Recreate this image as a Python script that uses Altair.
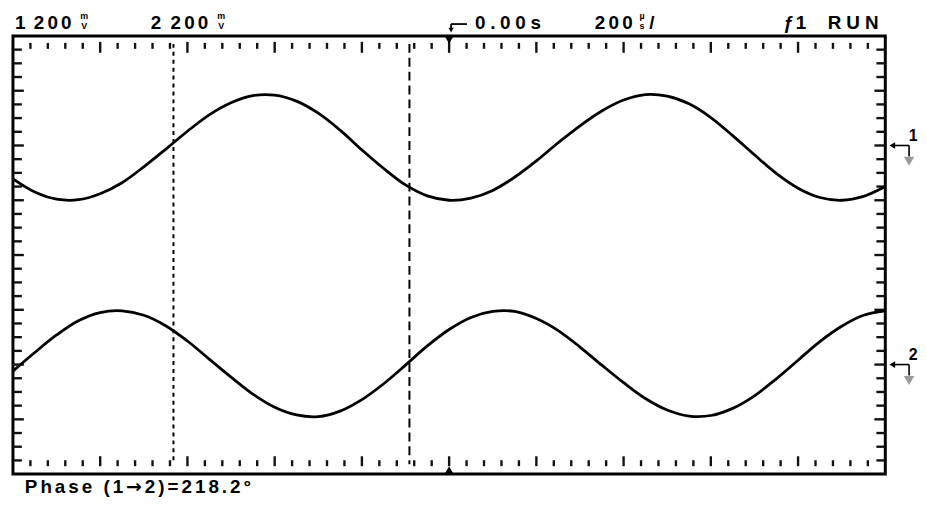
import altair as alt
import pandas as pd
import numpy as np

# ---------------- values read from the screen ----------------
# time axis: 200 us/div, 10 divisions, trigger (0.00 s) at centre
time_us = list(range(-1000, 1001, 50))
# vertical position of each trace in screen divisions (8 div, centre = 0)
ch1_div = [1.39, 1.15, 1.02, 1.01, 1.12, 1.32, 1.61, 1.93, 2.26, 2.56, 2.78,
           2.91, 2.92, 2.81, 2.59, 2.28, 1.92, 1.58, 1.28, 1.08, 1.00, 1.04,
           1.18, 1.42, 1.72, 2.05, 2.36, 2.63, 2.83, 2.93, 2.90, 2.76, 2.51,
           2.18, 1.83, 1.49, 1.22, 1.05, 1.00, 1.07, 1.25]
ch2_div = [-2.12, -1.78, -1.46, -1.20, -1.05, -1.02, -1.10, -1.29, -1.57, -1.90,
           -2.23, -2.54, -2.78, -2.92, -2.95, -2.85, -2.64, -2.35, -2.01, -1.66,
           -1.36, -1.14, -1.03, -1.03, -1.16, -1.38, -1.68, -2.01, -2.33, -2.62,
           -2.83, -2.94, -2.93, -2.80, -2.57, -2.26, -1.92, -1.58, -1.30, -1.10,
           -1.02]
cursor_t = [-632, -91]          # the two phase cursors (us)
trigger_t = [0]                 # trigger position (us)
ground_div = [2, -2]            # channel ground markers (div)
ground_lbl = ["1", "2"]
footer_left = "Phase (1"
footer_arrow = "\u2192"
footer_right = "2)=218.2\u00b0"

W, H = 880, 442
FONT = "Liberation Sans"

xs = alt.Scale(domain=[-1000, 1000], nice=False, zero=False)
ys = alt.Scale(domain=[-4, 4], nice=False, zero=False)
pxs = alt.Scale(domain=[0, W], range=[0, W], nice=False, zero=False)
pys = alt.Scale(domain=[0, H], range=[0, H], nice=False, zero=False)

wave_df = pd.DataFrame({
    "t": time_us * 2,
    "v": ch1_div + ch2_div,
    "ch": ["1"] * len(time_us) + ["2"] * len(time_us),
})

xt = np.round(np.arange(-960, 1000, 40), 6)
x_major = [t for t in xt if abs(t) % 200 == 0]
x_minor = [t for t in xt if abs(t) % 200 != 0]
yt = np.round(np.arange(-3.75, 4, 0.25), 6)
y_major = [v for v in yt if v % 1 == 0]
y_minor = [v for v in yt if v % 1 != 0]

X = lambda f: alt.X(f, scale=xs, axis=None)
Y = lambda f: alt.Y(f, scale=ys, axis=None)
TICK = dict(color="#111111", strokeWidth=2.4)

waves = alt.Chart(wave_df).mark_line(
    color="black", strokeWidth=2.8, interpolate="catmull-rom"
).encode(x=X("t:Q"), y=Y("v:Q"), detail="ch:N")

xmin_df = pd.DataFrame({"t": x_minor})
xmaj_df = pd.DataFrame({"t": x_major})
ymin_df = pd.DataFrame({"v": y_minor})
ymaj_df = pd.DataFrame({"v": y_major})

ticks = [
    alt.Chart(xmin_df).mark_rule(**TICK).encode(x=X("t:Q"), y=alt.value(7), y2=alt.value(13)),
    alt.Chart(xmaj_df).mark_rule(**TICK).encode(x=X("t:Q"), y=alt.value(6), y2=alt.value(17)),
    alt.Chart(xmin_df).mark_rule(**TICK).encode(x=X("t:Q"), y=alt.value(428), y2=alt.value(434)),
    alt.Chart(xmaj_df).mark_rule(**TICK).encode(x=X("t:Q"), y=alt.value(424), y2=alt.value(434)),
    alt.Chart(ymin_df).mark_rule(**TICK).encode(y=Y("v:Q"), x=alt.value(0), x2=alt.value(9)),
    alt.Chart(ymaj_df).mark_rule(**TICK).encode(y=Y("v:Q"), x=alt.value(0), x2=alt.value(11)),
    alt.Chart(ymin_df).mark_rule(**TICK).encode(y=Y("v:Q"), x=alt.value(W - 9), x2=alt.value(W)),
    alt.Chart(ymaj_df).mark_rule(**TICK).encode(y=Y("v:Q"), x=alt.value(W - 11), x2=alt.value(W)),
]

cur1 = alt.Chart(pd.DataFrame({"t": [cursor_t[0]]})).mark_rule(
    color="black", strokeWidth=2, strokeDash=[4, 4]
).encode(x=X("t:Q"), y=alt.value(8), y2=alt.value(432))
cur2 = alt.Chart(pd.DataFrame({"t": [cursor_t[1]]})).mark_rule(
    color="black", strokeWidth=2, strokeDash=[9, 5]
).encode(x=X("t:Q"), y=alt.value(8), y2=alt.value(432))

trig_df = pd.DataFrame({"t": trigger_t})
trig_top = alt.Chart(trig_df).mark_point(
    shape="triangle-down", filled=True, color="black", opacity=1, size=80
).encode(x=X("t:Q"), y=alt.value(4))
trig_bot = alt.Chart(trig_df).mark_point(
    shape="triangle-up", filled=True, color="black", opacity=1, size=80
).encode(x=X("t:Q"), y=alt.value(H - 4))

gdf = pd.DataFrame({"g": ground_div, "lbl": ground_lbl})
g_arrow = alt.Chart(gdf).mark_point(
    shape="triangle-left", filled=True, color="black", opacity=1, size=45
).encode(y=Y("g:Q"), x=alt.value(887))
g_h = alt.Chart(gdf).mark_rule(color="black", strokeWidth=1.6).encode(
    y=Y("g:Q"), x=alt.value(886), x2=alt.value(904))
g_v = alt.Chart(gdf).mark_rule(color="black", strokeWidth=1.6, y2Offset=11).encode(
    y=Y("g:Q"), y2=alt.Y2("g:Q"), x=alt.value(904))
g_sym = alt.Chart(gdf).mark_point(
    shape="triangle-down", filled=True, color="#9a9a9a", opacity=1, size=110, yOffset=16
).encode(y=Y("g:Q"), x=alt.value(904))
g_lbl = alt.Chart(gdf).mark_text(
    font=FONT, fontSize=16, fontWeight="bold", align="center", baseline="middle", yOffset=-10
).encode(y=Y("g:Q"), x=alt.value(908), text="lbl:N")

# ---- per-character text (screen font has wide letter spacing) ----
ADV = {' ': .278, '0': .556, '1': .556, '2': .556, '8': .556, '.': .278, '(': .333,
       ')': .333, '=': .584, '\u2192': .838, '\u00b0': .4, 'P': .667, 'h': .611,
       'a': .556, 's': .556, 'e': .556, 'R': .722, 'U': .722, 'N': .722,
       '\u0192': .556, '/': .278, 'm': .889, 'V': .667, '\u00b5': .611}


def char_rows(text, x0, base, size, spacing):
    rows, x = [], x0
    for c in text:
        rows.append({"c": c, "px": x, "py": base})
        x += ADV.get(c, .556) * size + spacing
    return rows, x


def text_layer(rows, size, weight="bold", font=FONT):
    return alt.Chart(pd.DataFrame(rows)).mark_text(
        font=font, fontSize=size, fontWeight=weight, align="left",
        baseline="alphabetic", color="black"
    ).encode(x=alt.X("px:Q", scale=pxs, axis=None),
             y=alt.Y("py:Q", scale=pys, axis=None), text="c:N")


HS, HP = 19, 3.2
hdr = []
for txt, x0, sp in [("1", 2, HP), ("200", 21, HP), ("2", 139, HP), ("200", 159, HP),
                    ("0.00s", 466, 4.8), ("200", 587, HP), ("/", 642, HP),
                    ("\u01921", 777, 2), ("RUN", 822, 5)]:
    hdr += char_rows(txt, x0, -7, HS, sp)[0]

small = []
for txt, x0, base in [("m", 68, -17), ("V", 69, -7), ("m", 206, -17), ("V", 207, -7),
                      ("\u00b5", 632, -17), ("s", 632, -7)]:
    small += char_rows(txt, x0, base, 9, 0)[0]

foot1, xe = char_rows(footer_left, 12, 461, 19, 3)
foot_arrow, xe = char_rows(footer_arrow, xe, 461, 19, 3)
foot2, _ = char_rows(footer_right, xe, 461, 19, 3)

# trigger-delay hook arrow in header
hook_h = alt.Chart(trig_df).mark_rule(color="black", strokeWidth=1.8).encode(
    x=alt.value(442), x2=alt.value(458), y=alt.value(-12))
hook_v = alt.Chart(trig_df).mark_rule(color="black", strokeWidth=1.8).encode(
    x=alt.value(442), y=alt.value(-12), y2=alt.value(-7))
hook_a = alt.Chart(trig_df).mark_point(
    shape="triangle-down", filled=True, color="black", opacity=1, size=30
).encode(x=alt.value(442), y=alt.value(-6))

layers = ticks + [cur1, cur2, waves, trig_top, trig_bot,
                  g_h, g_v, g_arrow, g_sym, g_lbl,
                  hook_h, hook_v, hook_a,
                  text_layer(hdr, HS), text_layer(small, 9),
                  text_layer(foot1 + foot2, 19),
                  text_layer(foot_arrow, 19, font="DejaVu Sans")]

chart = alt.layer(*layers).resolve_scale(x="independent", y="independent").properties(
    width=W, height=H,
    autosize=alt.AutoSizeParams(type="none"),
    padding={"left": 5, "top": 26, "right": 34, "bottom": 32},
    background="white",
).configure_view(stroke="black", strokeWidth=3)

chart.save("out.html", embed_options={"renderer": "svg", "actions": False})
